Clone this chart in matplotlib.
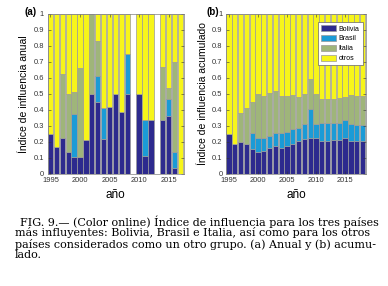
import matplotlib

matplotlib.use("Agg")
import matplotlib.pyplot as plt
import numpy as np

# panel (a): annual influence index, years 1995-2017
years_a = list(range(1995, 2018))
bolivia_a = [0.25, 0.17, 0.225, 0.14, 0.105, 0.105, 0.21, 0.50, 0.45, 0.22, 0.42, 0.50,
             0.385, 0.50, 0.0, 0.50, 0.11, 0.335, 0.0, 0.335, 0.36, 0.035, 0.0]
brasil_a = [0.0, 0.0, 0.0, 0.0, 0.27, 0.0, 0.0, 0.0, 0.16, 0.19, 0.0, 0.0,
            0.0, 0.25, 0.0, 0.0, 0.225, 0.0, 0.0, 0.0, 0.11, 0.105, 0.0]
italia_a = [0.0, 0.0, 0.40, 0.36, 0.135, 0.555, 0.0, 0.50, 0.22, 0.0, 0.0, 0.0,
            0.0, 0.0, 0.0, 0.0, 0.0, 0.0, 0.0, 0.335, 0.07, 0.56, 0.0]
empty_a = [2009, 2013]

# panel (b): cumulative influence index, years 1995-2018
years_b = list(range(1995, 2019))
bolivia_b = [0.25, 0.185, 0.20, 0.19, 0.155, 0.14, 0.145, 0.165, 0.175, 0.16, 0.175, 0.19,
             0.205, 0.22, 0.225, 0.225, 0.205, 0.205, 0.21, 0.215, 0.225, 0.205, 0.205, 0.205]
brasil_top_b = [0.25, 0.185, 0.20, 0.19, 0.255, 0.225, 0.225, 0.24, 0.255, 0.255, 0.265, 0.28,
                0.29, 0.31, 0.405, 0.315, 0.32, 0.32, 0.32, 0.32, 0.335, 0.31, 0.305, 0.305]
italia_top_b = [0.25, 0.185, 0.38, 0.41, 0.45, 0.50, 0.49, 0.505, 0.52, 0.49, 0.49, 0.495,
                0.48, 0.50, 0.595, 0.50, 0.47, 0.47, 0.47, 0.475, 0.48, 0.495, 0.49, 0.49]

labels = ["Bolivia", "Brasil", "Italia", "otros"]
colors = ["#2d2a8e", "#1b9bd6", "#9fb57a", "#f7f51a"]

caption_lines = [
    "FIG. 9.— (Color online) Índice de influencia para los tres países",
    "más influyentes: Bolivia, Brasil e Italia, así como para los otros",
    "países considerados como un otro grupo. (a) Anual y (b) acumu-",
    "lado.",
]


def stack(ax, years, parts):
    bottom = np.zeros(len(years))
    for vals, c, lab in zip(parts, colors, labels):
        vals = np.asarray(vals, dtype=float)
        ax.bar(years, vals, bottom=bottom, width=0.9, color=c, edgecolor="0.6",
               linewidth=0.5, label=lab)
        bottom += vals


def style(ax, xlim, ylabel, tag, tag_x):
    ax.set_xlim(*xlim)
    ax.set_ylim(0, 1)
    ax.set_yticks(np.arange(0, 1.01, 0.1))
    ax.set_yticklabels(["0"] + [f"{v:.1f}" for v in np.arange(0.1, 0.95, 0.1)] + ["1"])
    ax.set_xticks([1995, 2000, 2005, 2010, 2015])
    ax.tick_params(direction="in", top=True, right=True, labelsize=5.4, length=2,
                   width=0.4, colors="0.2", pad=2.5)
    for s in ax.spines.values():
        s.set_linewidth(0.5)
        s.set_color("0.5")
    ax.set_xlabel("año", fontsize=8.5, labelpad=3)
    ax.set_ylabel(ylabel, fontsize=7.5, labelpad=3)
    ax.text(tag_x, 1.01, tag, transform=ax.transAxes, fontsize=7, fontweight="bold",
            ha="center", va="center")


plt.rcParams["font.family"] = ["Liberation Sans", "DejaVu Sans"]
fig = plt.figure(figsize=(3.88, 2.86), dpi=100)
ax1 = fig.add_axes([47.5 / 388, 1 - 174 / 286, 136.5 / 388, 160 / 286])
ax2 = fig.add_axes([226 / 388, 1 - 174 / 286, 140 / 388, 160 / 286])

# panel (a)
b1 = np.array(bolivia_a)
br1 = np.array(brasil_a)
it1 = np.array(italia_a)
ot1 = 1 - b1 - br1 - it1
for i, y in enumerate(years_a):
    if y in empty_a:
        ot1[i] = 0.0
stack(ax1, years_a, [b1, br1, it1, ot1])
style(ax1, (1994.5, 2017.6), "Índice de influencia anual", "(a)", -0.125)

# panel (b)
b2 = np.array(bolivia_b)
br2 = np.array(brasil_top_b) - b2
it2 = np.array(italia_top_b) - np.array(brasil_top_b)
ot2 = 1 - np.array(italia_top_b)
stack(ax2, years_b, [b2, br2, it2, ot2])
style(ax2, (1994.5, 2018.6), "Índice de influencia acumulado", "(b)", -0.095)
leg = ax2.legend(loc="upper right", fontsize=5, handlelength=2.2, handleheight=1.0,
                 borderpad=0.4, labelspacing=0.35, handletextpad=0.4, fancybox=False,
                 framealpha=1, bbox_to_anchor=(1.0, 0.97))
leg.get_frame().set_linewidth(0.5)
leg.get_frame().set_edgecolor("0.4")

# caption: size the serif text so the first line spans the column width
serif = ["DejaVu Serif"]
line_y = [222, 233, 244, 255]
renderer = fig.canvas.get_renderer()
probe = fig.text(0, 0, caption_lines[0], family=serif, fontsize=10)
w = probe.get_window_extent(renderer).width
probe.remove()
fs = 10 * 358 / w
for k, (txt, yy) in enumerate(zip(caption_lines, line_y)):
    x0 = 20 if k == 0 else 15
    fig.text(x0 / 388, 1 - yy / 286, txt, family=serif, fontsize=fs,
             ha="left", va="center")

fig.savefig("out.png", dpi=100)
